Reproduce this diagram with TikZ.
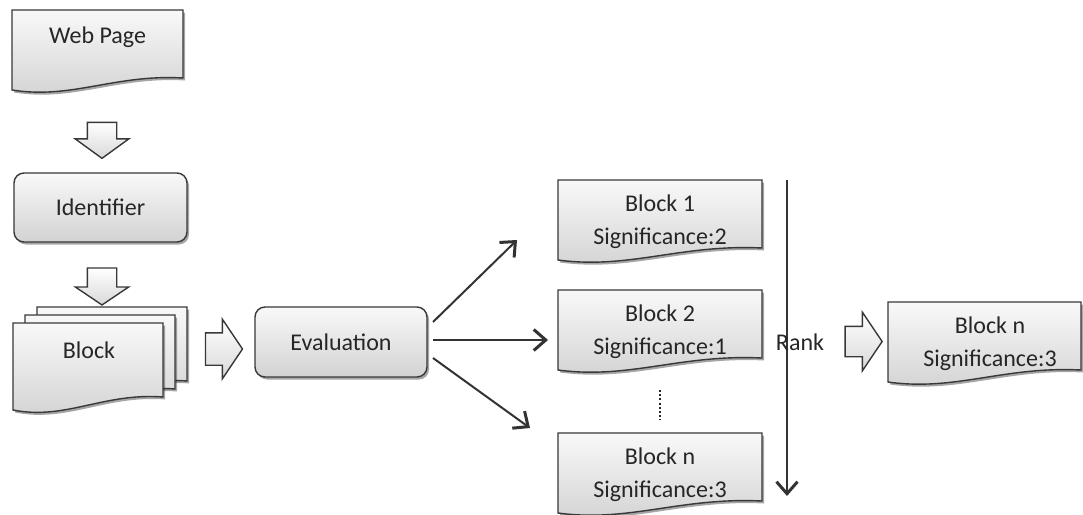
\documentclass[tikz,border=0pt]{standalone}
\usepackage{fontspec}
\setmainfont{Carlito}
\usetikzlibrary{shapes.arrows,shadows,arrows.meta,calc,backgrounds}
\definecolor{ink}{HTML}{262626}
\definecolor{edge}{HTML}{383838}
\tikzset{
  txt/.style={text=ink, font=\fontsize{24}{33}\selectfont, align=center, inner sep=0pt},
  docbox/.style={draw=none, inner sep=0pt, outer sep=0pt},
  softshadow/.style={drop shadow={shadow xshift=2pt, shadow yshift=-2.5pt, opacity=.35, fill=black}},
  docfill/.style={draw=edge, line width=1.4pt, top color=gray!5, bottom color=gray!35, softshadow},
  roundbox/.style={draw=edge, line width=1.4pt, rounded corners=10pt, top color=gray!5,
    bottom color=gray!35, softshadow, minimum width=173, minimum height=69,
    inner sep=0pt, outer sep=0pt, text=ink, font=\fontsize{24}{33}\selectfont},
  blockarrow/.style={single arrow, draw=edge, line width=1.4pt, top color=white, bottom color=gray!30,
    inner xsep=0pt, outer sep=0pt, single arrow tip angle=112},
  conn/.style={draw=black!80, line width=2pt,
    -{Straight Barb[length=12pt, width=21pt, line width=3pt]}},
}
% document outline with a wavy bottom edge, fitted to a node's box
\newcommand\docpath[1]{%
  \path[docfill] (#1.north west) -- (#1.north east)
    -- ($(#1.south east)!0.15!(#1.north east)$)
    .. controls ($($(#1.south west)!0.6!(#1.south east)$)!0.2!($(#1.north west)!0.6!(#1.north east)$)$)
       and ($($(#1.south west)!0.35!(#1.south east)$)!-0.12!($(#1.north west)!0.35!(#1.north east)$)$)
    .. (#1.south west) -- cycle;}
\begin{document}
\begin{tikzpicture}[x=1pt,y=-1pt]
\useasboundingbox (0,0) rectangle (1083,514);

% document boxes
\node[docbox, minimum width=171, minimum height=80] (web) at (97.5,50) {};
\node[docbox, minimum width=150, minimum height=87] (blkC) at (112,350.5) {};
\node[docbox, minimum width=150, minimum height=87] (blkB) at (100,358.5) {};
\node[docbox, minimum width=150, minimum height=87] (blkA) at (88,366.5) {};
\node[docbox, minimum width=204, minimum height=80] (b1) at (660,220) {};
\node[docbox, minimum width=204, minimum height=80] (b2) at (660,330) {};
\node[docbox, minimum width=204, minimum height=80] (bn) at (660,473) {};
\node[docbox, minimum width=193, minimum height=80] (fin) at (984.5,342) {};

\begin{scope}[on background layer]
  \docpath{web}
  \docpath{blkC}
  \docpath{blkB}
  \docpath{blkA}
  \docpath{b1}
  \docpath{b2}
  \docpath{bn}
  \docpath{fin}
\end{scope}

% texts on the documents
\node[txt] (webtxt) at (97.5,37) {Web Page};
\node[txt] (blktxt) at (89,350) {Block};
\node[txt] (b1txt) at ([yshift=-2pt]b1.center) {Block 1\\Significance:2};
\node[txt] (b2txt) at ([yshift=-2pt]b2.center) {Block 2\\Significance:1};
\node[txt] (bntxt) at ([yshift=-2pt]bn.center) {Block n\\Significance:3};
\node[txt] (fintxt) at (990,344) {Block n\\Significance:3};

% process boxes
\node[roundbox] (ident) at (100.5,207.5) {Identifier};
\node[roundbox, minimum width=172, minimum height=70] (eval) at (341,342) {Evaluation};

% block arrows
\node[blockarrow, rotate=-90, minimum height=36, inner ysep=14pt,
      single arrow head extend=12pt, single arrow tip angle=108] (a1) at (102,135) {};
\node[blockarrow, rotate=-90, minimum height=37, inner ysep=14pt,
      single arrow head extend=12pt] (a2) at (102,281.5) {};
\node[blockarrow, minimum height=37, inner ysep=15.5pt,
      single arrow head extend=13.5pt] (a3) at (218.5,349) {};
\node[blockarrow, minimum height=37, inner ysep=14.5pt,
      single arrow head extend=14pt] (a4) at (858.5,341.5) {};

% fan-out from the evaluation step
\coordinate (e1) at (517,240);
\coordinate (e2) at (548,340);
\coordinate (e3) at (530,428);
\draw[conn] ([shift={(6,-20)}]eval.east) -- (e1);
\draw[conn] ([shift={(6,-2)}]eval.east) -- (e2);
\draw[conn] ([shift={(6,16)}]eval.east) -- (e3);

% omitted blocks
\coordinate (d1) at (660,390);
\coordinate (d2) at (660,420);
\draw[black!85, line width=2pt, dash pattern=on 2pt off 2.2pt] (d1) -- (d2);

% ranking axis
\coordinate (rtop) at (787,180);
\coordinate (rbot) at (787,496);
\draw[conn] (rtop) -- (rbot);
\node[txt] (rank) at (800,342) {Rank};
\end{tikzpicture}
\end{document}
